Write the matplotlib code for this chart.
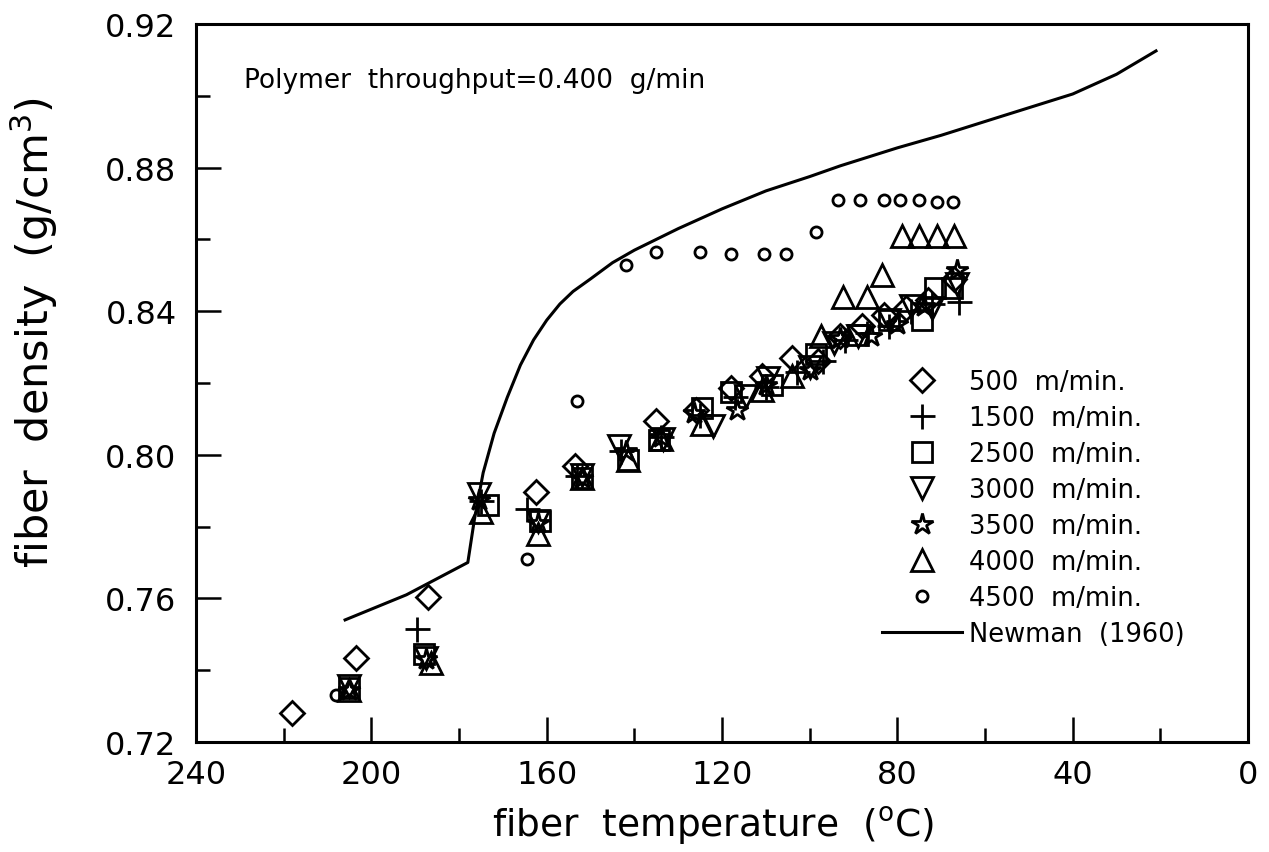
import matplotlib
matplotlib.use("Agg")
import matplotlib.pyplot as plt
import numpy as np

plt.rcParams['font.family'] = ['DejaVu Sans']

# Newman (1960) curve
newman_t = [206, 192, 178, 176.5, 174.5, 172, 169, 166, 163, 160, 157, 154, 150, 145,
            140, 130, 120, 110, 100, 93, 80, 70, 57, 40, 30, 21]
newman_d = [0.754, 0.761, 0.770, 0.782, 0.795, 0.806, 0.816, 0.825, 0.832, 0.8375,
            0.842, 0.8455, 0.849, 0.8535, 0.857, 0.863, 0.8685, 0.8735, 0.8775, 0.8805,
            0.8855, 0.889, 0.894, 0.9005, 0.906, 0.9125]

# measured points per take-up speed
t_500 = [218, 203.5, 187, 162.5, 153.5, 135, 126, 118, 111, 104, 98, 93, 88, 83, 78, 73, 67]
d_500 = [0.728, 0.7435, 0.7605, 0.7895, 0.797, 0.8095, 0.8125, 0.8185, 0.822, 0.827,
         0.826, 0.833, 0.836, 0.839, 0.841, 0.843, 0.849]

t_1500 = [189.5, 175, 164.5, 153, 143, 134, 125, 117, 110, 103, 97, 92, 87, 82, 77, 72, 66]
d_1500 = [0.7515, 0.787, 0.785, 0.794, 0.801, 0.805, 0.811, 0.816, 0.819, 0.823,
          0.826, 0.832, 0.834, 0.836, 0.840, 0.842, 0.8425]

t_2500 = [205, 188, 173.5, 161.5, 152, 141.5, 134.5, 124.5, 118, 108.5, 98.5, 89, 82,
          74.4, 71.5, 67.5]
d_2500 = [0.735, 0.7445, 0.786, 0.7815, 0.7935, 0.7985, 0.804, 0.813, 0.8175, 0.8195,
          0.828, 0.8335, 0.8375, 0.8376, 0.8465, 0.8465]

t_3000 = [205, 187.5, 175.5, 162, 152, 143.5, 133.5, 122, 114.5, 109.5, 100, 94.5, 89,
          82, 77, 72, 66.5]
d_3000 = [0.7355, 0.7435, 0.789, 0.7815, 0.7945, 0.8025, 0.8045, 0.808, 0.8165, 0.8215,
          0.8245, 0.831, 0.833, 0.8375, 0.8415, 0.841, 0.8475]

t_3500 = [205, 187.5, 175.5, 162, 152, 142, 134, 126.5, 116.5, 110, 100, 93, 86, 80,
          74, 66.5]
d_3500 = [0.7345, 0.743, 0.7875, 0.781, 0.7935, 0.801, 0.805, 0.8115, 0.8125, 0.8195,
          0.8235, 0.8325, 0.833, 0.8365, 0.8415, 0.8515]

t_4000 = [205, 186.5, 175, 162, 152, 141.5, 134, 124.5, 111, 104, 97.5, 92.5, 87, 83.5,
          79, 75, 71, 67]
d_4000 = [0.7345, 0.742, 0.784, 0.778, 0.7935, 0.7985, 0.8045, 0.8085, 0.818, 0.822,
          0.833, 0.844, 0.844, 0.850, 0.861, 0.861, 0.861, 0.861]

t_4500 = [208, 164.5, 153, 142, 135, 125, 118, 110.5, 105.5, 98.5, 93.5, 88.5, 83, 79.5,
          75, 71, 67.3]
d_4500 = [0.733, 0.771, 0.815, 0.853, 0.8565, 0.8565, 0.856, 0.856, 0.856, 0.862,
          0.871, 0.871, 0.871, 0.871, 0.871, 0.8705, 0.8705]

fig = plt.figure(figsize=(12.69, 8.53), dpi=100)
ax = fig.add_axes([0.1545, 0.129, 0.829, 0.8417])

mew = 2.0
ax.plot(t_500, d_500, ls='none', marker='D', ms=12, mfc='none', mec='k', mew=mew,
        label='500  m/min.')
ax.plot(t_1500, d_1500, ls='none', marker='+', ms=18, mec='k', mew=mew,
        label='1500  m/min.')
ax.plot(t_2500, d_2500, ls='none', marker='s', ms=15, mfc='none', mec='k', mew=mew,
        label='2500  m/min.')
ax.plot(t_3000, d_3000, ls='none', marker='v', ms=16, mfc='none', mec='k', mew=mew,
        label='3000  m/min.')
ax.plot(t_3500, d_3500, ls='none', marker='*', ms=16, mfc='none', mec='k', mew=mew,
        label='3500  m/min.')
ax.plot(t_4000, d_4000, ls='none', marker='^', ms=16, mfc='none', mec='k', mew=mew,
        label='4000  m/min.')
ax.plot(t_4500, d_4500, ls='none', marker='o', ms=8, mfc='none', mec='k', mew=mew,
        label='4500  m/min.')
ax.plot(newman_t, newman_d, color='k', lw=2.2, label='Newman  (1960)')

ax.set_xlim(240, 0)
ax.set_ylim(0.72, 0.92)
ax.set_xticks(np.arange(0, 241, 40))
ax.set_xticks(np.arange(0, 241, 20), minor=True)
ax.set_yticks(np.arange(0.72, 0.921, 0.04))
ax.set_yticks(np.arange(0.72, 0.921, 0.02), minor=True)
ax.set_yticklabels(['0.72', '0.76', '0.80', '0.84', '0.88', '0.92'])
ax.tick_params(which='both', direction='in', width=1.8, labelsize=23,
               top=False, right=False)
ax.tick_params(which='major', length=18)
ax.tick_params(which='minor', length=10)
ax.tick_params(axis='x', pad=12)
ax.tick_params(axis='y', pad=14)
for sp in ax.spines.values():
    sp.set_linewidth(2.2)

ax.set_xlabel('fiber  temperature  ($^\\mathregular{o}$C)', fontsize=27)
ax.set_ylabel('fiber  density  (g/cm$^\\mathregular{3}$)', fontsize=31)
ax.xaxis.set_label_coords(0.491, -0.086)
ax.yaxis.set_label_coords(-0.129, 0.572)

ax.text(229, 0.9045, 'Polymer  throughput=0.400  g/min', fontsize=19, va='center')

ax.legend(loc='upper left', bbox_to_anchor=(0.652, 0.519), frameon=False,
          fontsize=18.5, handlelength=3.1, handletextpad=0.3, labelspacing=0.39,
          borderpad=0, borderaxespad=0)

fig.savefig('out.png', dpi=100)
